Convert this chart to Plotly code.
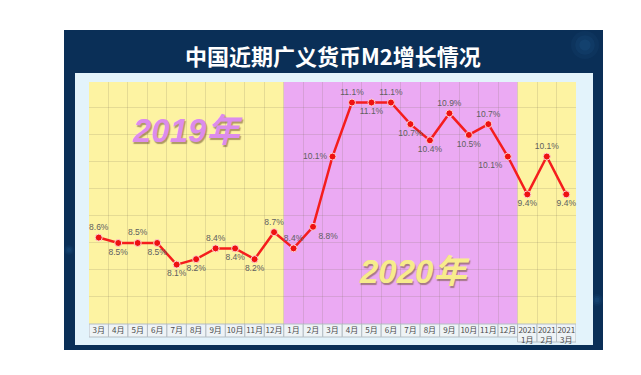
import plotly.graph_objects as go

# ---- data ----
months = ["3月", "4月", "5月", "6月", "7月", "8月", "9月", "10月", "11月", "12月",
          "1月", "2月", "3月", "4月", "5月", "6月", "7月", "8月", "9月", "10月", "11月", "12月",
          "2021<br>1月", "2021<br>2月", "2021<br>3月"]
years = ["2019"] * 10 + ["2020"] * 12 + ["2021"] * 3
m2_growth = [8.6, 8.5, 8.5, 8.5, 8.1, 8.2, 8.4, 8.4, 8.2, 8.7,
             8.4, 8.8, 10.1, 11.1, 11.1, 11.1, 10.7, 10.4, 10.9, 10.5, 10.7, 10.1,
             9.4, 10.1, 9.4]
title_text = "中国近期广义货币M2增长情况"

# label placement (style)
label_pos = ["top center", "bottom center", "top center", "bottom center", "bottom center",
             "bottom center", "top center", "bottom center", "bottom center", "top center",
             "top center", "bottom right", "middle left", "top center", "bottom center",
             "top center", "bottom center", "bottom center", "top center", "bottom center",
             "top center", "bottom left", "bottom center", "top center", "bottom center"]

OFF = 8  # page body margin
W, H = 641 - OFF, 375 - OFF
# plot area in page pixels
PL, PR, PT, PB = 89, 576, 82, 324


def px(x):
    return (x - PL) / (PR - PL)


def py(y):
    return (PB - y) / (PB - PT)


x_idx = list(range(len(months)))
labels = [f"{v}%" for v in m2_growth]

fig = go.Figure()
fig.add_trace(go.Scatter(
    x=x_idx, y=m2_growth, mode="lines+markers+text",
    line=dict(color="#F51D1D", width=2.5),
    marker=dict(color="#EE1111", size=7, line=dict(color="#FFD0D0", width=1)),
    text=labels, textposition=label_pos,
    textfont=dict(size=8.5, color="#606060", family="Liberation Sans, Arial"),
    hoverinfo="skip", cliponaxis=False, showlegend=False,
))

shapes = []
# dark frame
shapes.append(dict(type="rect", xref="paper", yref="paper", x0=px(64), x1=px(603), y0=py(350), y1=py(30),
                   fillcolor="#0A2F57", line=dict(width=0), layer="below"))
# soft glows inside the frame (stacked translucent circles, kept inside the frame)
for cx, cy, rmax in [(585, 45, 14), (597, 300, 6), (69, 250, 5)]:
    for k, a in [(1.0, 0.06), (0.7, 0.07), (0.4, 0.09)]:
        r = rmax * k
        shapes.append(dict(type="circle", xref="paper", yref="paper", x0=px(cx - r), x1=px(cx + r),
                           y0=py(cy + r), y1=py(cy - r), fillcolor=f"rgba(60,140,210,{a})",
                           line=dict(width=0), layer="below"))
# light inner panel
shapes.append(dict(type="rect", xref="paper", yref="paper", x0=px(75), x1=px(593), y0=py(345), y1=py(73),
                   fillcolor="#E3F3FB", line=dict(width=0), layer="below"))
# year bands
band_col = {"2019": "#FDF3A2", "2020": "#EBAAF3", "2021": "#FDF3A2"}
for yr in ["2019", "2020", "2021"]:
    idx = [i for i, y in enumerate(years) if y == yr]
    shapes.append(dict(type="rect", xref="x", yref="paper", x0=idx[0] - 0.5, x1=idx[-1] + 0.5,
                       y0=0, y1=1, fillcolor=band_col[yr], line=dict(width=0), layer="below"))
# tick label boxes
for i, m in enumerate(months):
    bottom = 342 if "<br>" in m else 337
    shapes.append(dict(type="rect", xref="x", yref="paper", x0=i - 0.5, x1=i + 0.5,
                       y0=py(bottom), y1=0, fillcolor="#EEF3F6",
                       line=dict(color="#B5BEC5", width=1), layer="below"))

annotations = [
    dict(text=title_text, xref="paper", yref="paper", x=px(333), y=py(55), showarrow=False,
         font=dict(family="Noto Sans CJK SC", size=22, color="white", weight="bold"),
         xanchor="center", yanchor="middle"),
    dict(text="2019年", xref="paper", yref="paper", x=px(187), y=py(130), showarrow=False,
         font=dict(family="Liberation Sans, Noto Sans CJK SC", size=33, color="#DC8CEC",
                   weight="bold", style="italic", shadow="1px 2px 1px rgba(110,80,50,0.55)"),
         xanchor="center", yanchor="middle"),
    dict(text="2020年", xref="paper", yref="paper", x=px(414), y=py(271), showarrow=False,
         font=dict(family="Liberation Sans, Noto Sans CJK SC", size=33, color="#F7EC8C",
                   weight="bold", style="italic", shadow="1px 2px 1px rgba(110,80,50,0.55)"),
         xanchor="center", yanchor="middle"),
]

fig.update_layout(
    width=W, height=H,
    margin=dict(l=PL - OFF, r=W - (PR - OFF), t=PT - OFF, b=H - (PB - OFF)),
    paper_bgcolor="white", plot_bgcolor="rgba(0,0,0,0)",
    shapes=shapes, annotations=annotations,
    xaxis=dict(range=[-0.5, len(months) - 0.5], tickmode="array", tickvals=x_idx, ticktext=months,
               tickangle=0, showgrid=False, zeroline=False, showline=False, ticks="",
               tickfont=dict(family="Noto Sans CJK SC", size=8, color="#4A4A4A"),
               minor=dict(tick0=0.5, dtick=1, showgrid=True, gridcolor="rgba(120,110,90,0.18)", gridwidth=1),
               fixedrange=True),
    yaxis=dict(range=[7.0, 11.48], dtick=0.5, tick0=7, showticklabels=False, showgrid=True,
               gridcolor="rgba(120,110,90,0.18)", zeroline=False, showline=False, fixedrange=True),
    hovermode=False,
)

fig.write_html("out.html")
